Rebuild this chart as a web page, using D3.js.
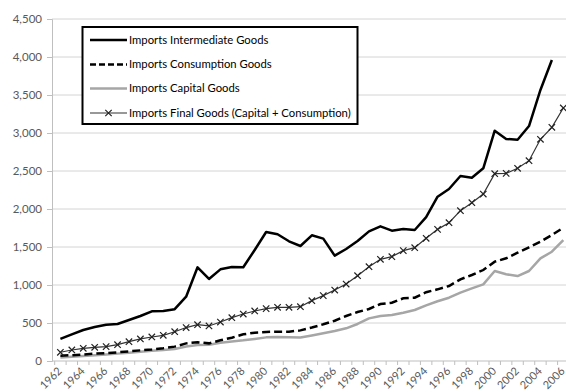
<!DOCTYPE html>
<html><head><meta charset="utf-8">
<script src="https://cdn.jsdelivr.net/npm/d3@7"></script>
<style>
html,body{margin:0;padding:0;background:#fff;}
svg{display:block;font-family:Lato, "Open Sans", sans-serif;}
</style></head>
<body><svg id="c" width="566" height="392"></svg>
<script>
const years = d3.range(1962, 2007);
const tickYears = years.filter(y => (y - 1962) % 2 === 0);
const yTicks = [0,500,1000,1500,2000,2500,3000,3500,4000,4500];

const intermediate = [290,350,408,447,478,487,539,592,653,658,682,846,1233,1079,1206,1237,1233,1461,1697,1667,1575,1513,1654,1610,1386,1474,1579,1706,1772,1715,1737,1724,1893,2162,2263,2434,2412,2535,3030,2921,2912,3092,3566,3961];
const consumption = [70,76,86,96,104,114,126,140,152,168,189,232,246,232,272,307,351,373,382,386,386,403,440,483,530,592,645,684,750,767,825,833,905,943,987,1075,1132,1197,1307,1351,1425,1496,1570,1658,1754];
const capital = [45,55,65,75,85,97,110,122,135,145,158,190,210,215,240,258,272,290,311,315,311,309,335,364,395,430,487,561,592,605,636,671,732,786,833,899,956,1009,1184,1141,1118,1184,1351,1438,1592];
const finalGoods = [115,145,167,180,189,215,254,290,316,338,385,440,478,461,513,570,618,658,689,706,706,715,794,860,934,1013,1123,1241,1338,1373,1452,1491,1614,1732,1820,1978,2083,2197,2465,2469,2535,2636,2917,3075,3329];

const legendLabels = ["Imports Intermediate Goods","Imports Consumption Goods","Imports Capital Goods","Imports Final Goods (Capital + Consumption)"];

const W = 566, H = 392;
const m = {left: 52, top: 19, bottom: 31};
const svg = d3.select("#c");

const x = d3.scalePoint().domain(years).range([60.4, 563.3]);
const y = d3.scaleLinear().domain([0, 4500]).range([H - m.bottom, m.top]);
const step = x.step();

// gridlines
svg.append("g").selectAll("line").data(yTicks.filter(d => d > 0)).join("line")
  .attr("x1", m.left).attr("x2", W)
  .attr("y1", d => y(d)).attr("y2", d => y(d))
  .attr("stroke", "#d4d4d4").attr("stroke-width", 1);

// y axis
const yAxis = svg.append("g").attr("transform", `translate(${m.left},0)`)
  .call(d3.axisLeft(y).tickValues(yTicks).tickFormat(d3.format(",")).tickSize(5).tickPadding(5));
yAxis.select(".domain").attr("stroke", "#bfbfbf");
yAxis.selectAll(".tick line").attr("stroke", "#bfbfbf");
yAxis.selectAll("text").attr("fill", "#595959").style("font-size", "11.5px").style("font-family", "Lato, sans-serif");

// x axis line + ticks (boundaries between categories)
const xa = svg.append("g");
xa.append("line").attr("x1", m.left).attr("x2", W).attr("y1", y(0)).attr("y2", y(0)).attr("stroke", "#bfbfbf");
xa.selectAll("line.t").data(years).join("line").attr("class","t")
  .attr("x1", d => x(d) - step/2).attr("x2", d => x(d) - step/2)
  .attr("y1", y(0)).attr("y2", y(0) + 4).attr("stroke", "#bfbfbf");
xa.selectAll("text").data(tickYears).join("text")
  .attr("transform", d => `translate(${x(d) - 0.5},${y(0) + 8}) rotate(-45)`)
  .attr("text-anchor", "end").attr("dy", "0.35em")
  .attr("fill", "#595959").style("font-size", "11px")
  .text(d => d);

const line = d3.line().x((d, i) => x(years[i])).y(d => y(d));

svg.append("path").datum(capital).attr("d", line)
  .attr("fill", "none").attr("stroke", "#a6a6a6").attr("stroke-width", 2.5).attr("stroke-linejoin","round");
svg.append("path").datum(consumption).attr("d", line)
  .attr("fill", "none").attr("stroke", "#000").attr("stroke-width", 2.5).attr("stroke-dasharray", "8,4");
svg.append("path").datum(intermediate).attr("d", line)
  .attr("fill", "none").attr("stroke", "#000").attr("stroke-width", 2.5).attr("stroke-linejoin","round");
svg.append("path").datum(finalGoods).attr("d", line)
  .attr("fill", "none").attr("stroke", "#333").attr("stroke-width", 1.2);

const mk = 3.2;
const markerPath = `M${-mk},${-mk}L${mk},${mk}M${-mk},${mk}L${mk},${-mk}`;
svg.append("g").selectAll("path").data(finalGoods).join("path")
  .attr("transform", (d, i) => `translate(${x(years[i])},${y(d)})`)
  .attr("d", markerPath).attr("stroke", "#222").attr("stroke-width", 1.2).attr("fill", "none");

// legend
const lg = svg.append("g");
lg.append("rect").attr("x", 82.5).attr("y", 27).attr("width", 275).attr("height", 97)
  .attr("fill", "#fff").attr("stroke", "#000").attr("stroke-width", 2);
const rowsY = [40, 64.5, 88.5, 113];
const styles = [
  {stroke:"#000", w:2.5, dash:null, mark:false},
  {stroke:"#000", w:2.5, dash:"6,3", mark:false},
  {stroke:"#a6a6a6", w:2.5, dash:null, mark:false},
  {stroke:"#333", w:1.2, dash:null, mark:true}
];
legendLabels.forEach((lab, i) => {
  const s = styles[i];
  const ly = rowsY[i];
  const l = lg.append("line").attr("x1", 90).attr("x2", 127).attr("y1", ly).attr("y2", ly)
    .attr("stroke", s.stroke).attr("stroke-width", s.w);
  if (s.dash) l.attr("stroke-dasharray", s.dash);
  if (s.mark) lg.append("path").attr("transform", `translate(108.5,${ly})`).attr("d", markerPath)
    .attr("stroke", "#222").attr("stroke-width", 1.2);
  lg.append("text").attr("x", 129).attr("y", ly).attr("dy", "0.35em")
    .attr("fill", "#000").style("font-size", "11.3px").text(lab);
});
</script></body></html>
